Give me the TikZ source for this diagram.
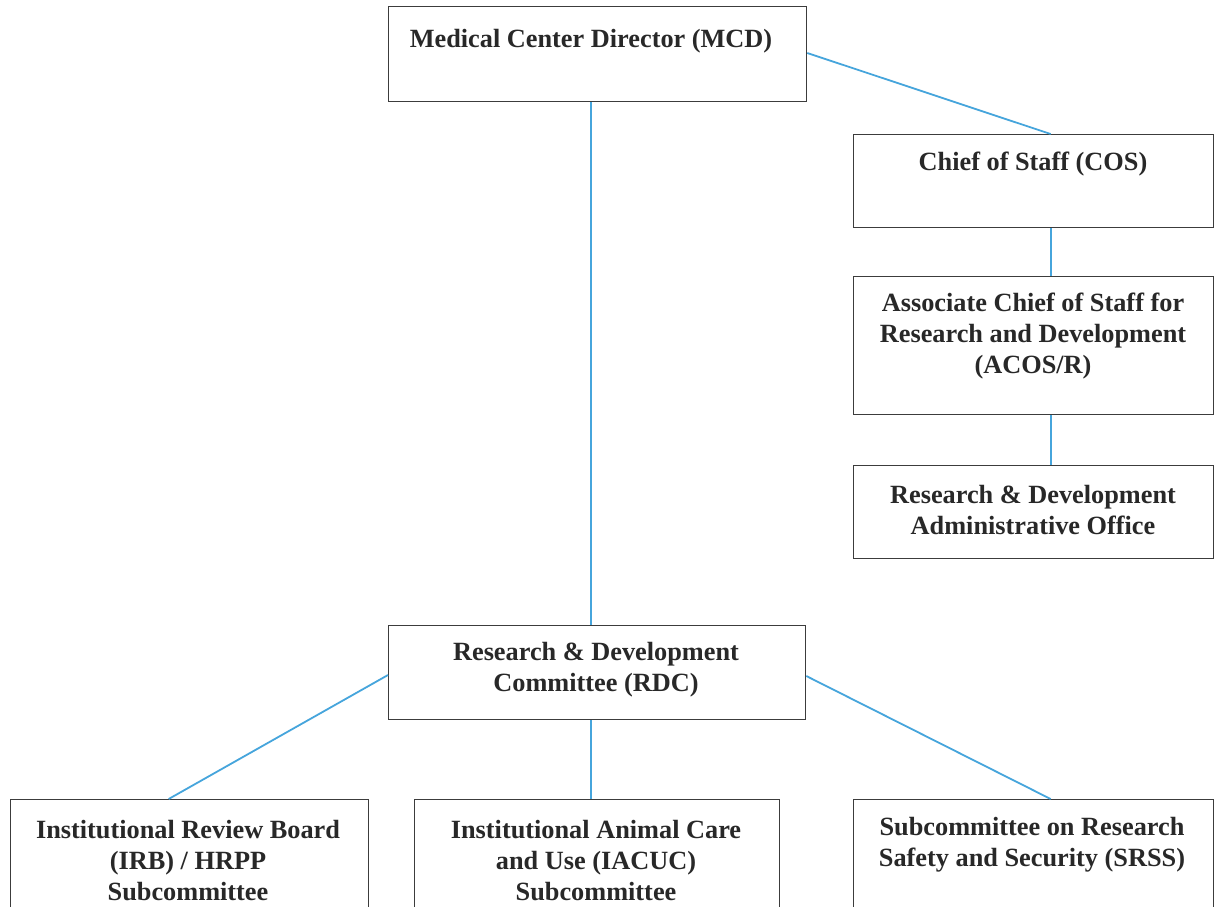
\documentclass[tikz,border=0pt]{standalone}
\usepackage{fontspec}
\setmainfont{Liberation Serif}
\definecolor{linkblue}{RGB}{70,165,220}
\definecolor{boxgray}{RGB}{60,60,60}
\definecolor{txtgray}{RGB}{40,40,40}
\begin{document}
\begin{tikzpicture}[x=1pt,y=-1pt,
  box/.style={draw=boxgray,line width=1.3pt,fill=white,rectangle,inner sep=0pt},
  lbl/.style={inner sep=0pt,align=center,text=txtgray,font=\bfseries\fontsize{26.3}{31}\selectfont},
  link/.style={draw=linkblue,line width=1.8pt}]
\useasboundingbox (0,0) rectangle (1214,906);
\fill[white] (0,0) rectangle (1214,906);
\begin{scope}
\clip (0,0) rectangle (1214,906);
% boxes
\node[box,anchor=north west,minimum width=418pt,minimum height=95pt] (mcd) at (388,6) {};
\node[box,anchor=north west,minimum width=360pt,minimum height=93pt] (cos) at (853,134) {};
\node[box,anchor=north west,minimum width=360pt,minimum height=138pt] (acos) at (853,276) {};
\node[box,anchor=north west,minimum width=360pt,minimum height=93pt] (rdao) at (853,465) {};
\node[box,anchor=north west,minimum width=417pt,minimum height=94pt] (rdc) at (388,625) {};
\node[box,anchor=north west,minimum width=358pt,minimum height=140pt] (irb) at (10,799) {};
\node[box,anchor=north west,minimum width=365pt,minimum height=140pt] (iacuc) at (414,799) {};
\node[box,anchor=north west,minimum width=360pt,minimum height=140pt] (srss) at (853,799) {};
% connectors
\draw[link] ([xshift=-7pt]mcd.south) -- ([xshift=-6.5pt]rdc.north);
\draw[link] ([yshift=-47pt]mcd.north east) -- ([xshift=17pt]cos.north);
\draw[link] ([xshift=17pt]cos.south) -- ([xshift=17pt]acos.north);
\draw[link] ([xshift=17pt]acos.south) -- ([xshift=17pt]rdao.north);
\draw[link] ([yshift=-50pt]rdc.north west) -- ([xshift=-21pt]irb.north);
\draw[link] ([xshift=-6.5pt]rdc.south) -- ([xshift=-6.5pt]iacuc.north);
\draw[link] ([yshift=-51pt]rdc.north east) -- ([xshift=17pt]srss.north);
% labels
\node[lbl] (tmcd) at (591,41) {Medical Center Director (MCD)};
\node[lbl] (tcos) at (1033,164) {Chief of Staff (COS)};
\node[lbl] (tacos) at (1033,336) {Associate Chief of Staff for\\Research and Development\\(ACOS/R)};
\node[lbl] (trdao) at (1033,510) {Research \& Development\\Administrative Office};
\node[lbl] (trdc) at (596,670) {Research \& Development\\Committee (RDC)};
\node[lbl] (tirb) at (188,861) {Institutional Review Board\\(IRB) / HRPP\\Subcommittee};
\node[lbl] (tiacuc) at (596,861) {Institutional Animal Care\\and Use (IACUC)\\Subcommittee};
\node[lbl] (tsrss) at (1032,845) {Subcommittee on Research\\Safety and Security (SRSS)};
\end{scope}
\end{tikzpicture}
\end{document}
